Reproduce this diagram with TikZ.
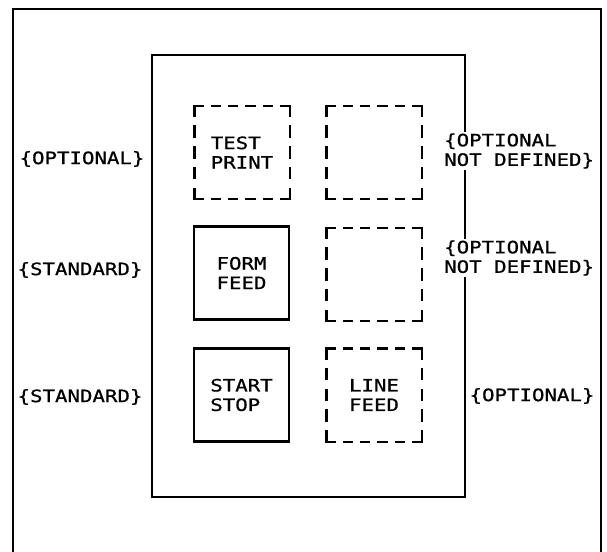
\documentclass[tikz,border=0pt]{standalone}
\usepackage{fontspec}
\newfontfamily\dotfont[FakeStretch=1.22,FakeBold=0.8]{DejaVu Sans Mono}
\newcommand\lblfont{\fontsize{17}{19.5}\selectfont\dotfont}
\newcommand\dbox[1]{%
  \draw[hdash] (#1.north west) -- (#1.north east);
  \draw[hdash] (#1.south west) -- (#1.south east);
  \draw[vdash] (#1.north west) -- (#1.south west);
  \draw[vdash] (#1.north east) -- (#1.south east);}
\begin{document}
\begin{tikzpicture}[x=1pt,y=-1pt,
  frame/.style={line width=2.3pt},
  key/.style={minimum width=95pt,minimum height=93pt,inner sep=0pt,align=left,font=\lblfont},
  solidkey/.style={key,draw,line width=2.3pt},
  hdash/.style={line width=2.4pt,line cap=rect,dash pattern=on 8pt off 9.4pt},
  vdash/.style={line width=2.4pt,line cap=rect,dash pattern=on 10pt off 10.75pt},
  lbl/.style={font=\lblfont,inner sep=1pt,align=left}]
\useasboundingbox (0,0) rectangle (607,551);
\fill[white] (0,0) rectangle (607,551);
% outer frame (bottom cut off)
\coordinate (obl) at (13,560);
\coordinate (otl) at (13,9);
\coordinate (otr) at (601,9);
\coordinate (obr) at (601,560);
\draw[frame] (obl) -- (otl) -- (otr) -- (obr);
% inner panel
\node[frame,draw,minimum width=313pt,minimum height=442pt,inner sep=0pt] (panel) at (308.5,276) {};
% keys
\node[key] (tp) at (242,152.5) {TEST\\PRINT};
\node[key] (e1) at (374,152.5) {};
\node[solidkey] (ff) at (241.5,273) {FORM\\FEED};
\node[key] (e2) at (374,274.5) {};
\node[solidkey] (ss) at (241.5,395) {START\\STOP};
\node[key,align=center,text width=60pt] (lf) at (374,395) {LINE\\FEED};
\dbox{tp}
\dbox{e1}
\dbox{e2}
\dbox{lf}
% left labels
\node[lbl] (l1) at (82,159) {\{OPTIONAL\}};
\node[lbl] (l2) at (80,270) {\{STANDARD\}};
\node[lbl] (l3) at (80,397) {\{STANDARD\}};
% right labels
\node[lbl,fill=white,anchor=west] (r1) at (443,151) {\{OPTIONAL\\NOT DEFINED\}};
\node[lbl,fill=white,anchor=west] (r2) at (443,258) {\{OPTIONAL\\NOT DEFINED\}};
\node[lbl] (r3) at (532,396) {\{OPTIONAL\}};
\end{tikzpicture}
\end{document}
